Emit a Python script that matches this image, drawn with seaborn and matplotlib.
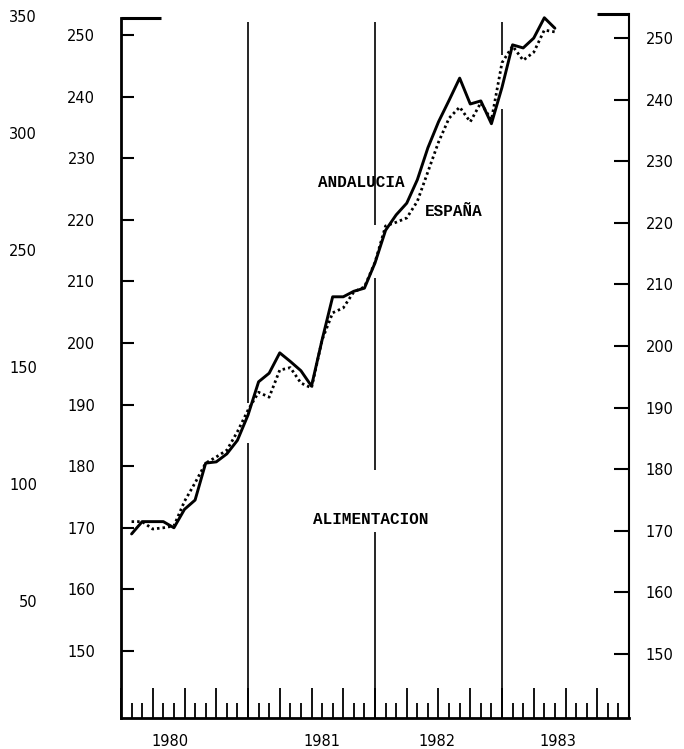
import matplotlib
matplotlib.use("Agg")
import numpy as np
import pandas as pd
import seaborn as sns
import matplotlib.pyplot as plt
import matplotlib.transforms as mtransforms

# monthly index values, Jan 1980 .. May 1983
months = list(range(1, 42))
andalucia = [169.0, 171.0, 171.0, 171.0, 170.0, 173.0, 174.5, 180.5, 180.7, 182.0,
             184.2, 188.3, 193.7, 195.1, 198.4, 197.0, 195.5, 193.0, 200.5, 207.5,
             207.5, 208.4, 208.9, 213.0, 218.3, 220.8, 222.7, 226.5, 231.7, 235.9,
             239.4, 243.0, 238.8, 239.3, 235.6, 241.5, 248.4, 247.9, 249.5, 252.8,
             251.1]
espana = [171.0, 171.0, 169.8, 170.0, 170.3, 174.3, 177.3, 180.5, 181.5, 182.6,
          185.6, 189.1, 192.0, 191.2, 195.6, 196.0, 193.5, 192.7, 200.5, 204.9,
          205.7, 208.3, 209.1, 213.1, 219.0, 219.6, 220.3, 223.0, 227.8, 232.6,
          236.5, 238.3, 235.9, 239.0, 236.2, 245.5, 248.2, 245.9, 247.2, 250.8,
          250.5]

years = ["1980", "1981", "1982", "1983"]
y_ticks = list(range(150, 251, 10))
outer_labels = ["350", "300", "250", "150", "100", "50"]

df = pd.DataFrame({"mes": months, "ANDALUCIA": andalucia, "ESPAÑA": espana})

sns.set_style("white")
plt.rcParams.update({
    "font.family": ["DejaVu Sans"],
    "text.color": "black",
    "xtick.color": "black",
    "ytick.color": "black",
    "xtick.bottom": True,
    "ytick.left": True,
})

fig = plt.figure(figsize=(6.84, 7.49), dpi=100)
ax = fig.add_axes([121 / 684, 31 / 749, 508 / 684, 704 / 749])

y_lo, y_hi = 139.12, 253.41
ax.set_xlim(0, 48)
ax.set_ylim(y_lo, y_hi)

# year separators, broken where the curves and labels pass
segments = [
    (12, 190.3, 252.1), (12, y_lo, 183.8),
    (24, 219.2, 252.1), (24, 179.4, 210.6), (24, y_lo, 169.3),
    (36, 246.8, 252.1), (36, y_lo, 238.0),
]
for x, y0, y1 in segments:
    ax.vlines(x, y0, y1, color="black", lw=1.2, zorder=2)

sns.lineplot(data=df, x="mes", y="ANDALUCIA", color="black", lw=2.1, ax=ax, zorder=3)
sns.lineplot(data=df, x="mes", y="ESPAÑA", color="black", lw=2.0,
             linestyle=(0, (0.9, 1.1)), ax=ax, zorder=3)

ax.set_xlabel("")
ax.set_ylabel("")

# spines
ax.spines["top"].set_visible(False)
for s in ["left", "bottom", "right"]:
    ax.spines[s].set_color("black")
ax.spines["left"].set_linewidth(2.0)
ax.spines["bottom"].set_linewidth(2.0)
ax.spines["right"].set_linewidth(1.5)
ax.spines["left"].set_bounds(y_lo, 252.8)

# top brackets
ax.plot([0, 3.8], [252.8, 252.8], color="black", lw=2.2, clip_on=False, solid_capstyle="butt")
ax.plot([45.0, 48.0], [y_hi, y_hi], color="black", lw=2.2, clip_on=False, solid_capstyle="butt")

# month ticks along the bottom
ax.set_xticks(range(0, 49, 3))
ax.set_xticks(range(0, 49), minor=True)
ax.tick_params(axis="x", which="major", direction="in", length=21.6, width=1.3,
               bottom=True, labelbottom=False, color="black")
ax.tick_params(axis="x", which="minor", direction="in", length=10.8, width=1.3,
               bottom=True, color="black")

ax.set_yticks(y_ticks)
ax.set_yticklabels([str(v) for v in y_ticks])
ax.tick_params(axis="y", direction="in", length=9.4, width=1.5, pad=18.5,
               left=True, labelsize=10.5, color="black")

# right scale
axr = ax.twinx()
axr.set_ylim(y_lo + 0.5, y_hi + 0.5)
axr.set_yticks(y_ticks)
axr.set_yticklabels([str(v) for v in y_ticks])
axr.tick_params(axis="y", direction="in", length=10.8, width=1.5, pad=12,
                right=True, labelsize=10.5, color="black")
for s in axr.spines.values():
    s.set_visible(False)

# outer left scale
axo = ax.twinx()
axo.set_ylim(6.0, -0.017)
axo.yaxis.set_ticks_position("left")
axo.set_yticks(range(len(outer_labels)))
axo.set_yticklabels(outer_labels)
axo.tick_params(axis="y", length=0, pad=60.5, labelsize=10.5)
for s in axo.spines.values():
    s.set_visible(False)

# year labels
trans = mtransforms.blended_transform_factory(ax.transData, ax.transAxes)
for lab, xpos in zip(years, [4.64, 19.0, 29.9, 41.3]):
    ax.text(xpos, -0.034, lab, transform=trans, ha="center", va="center", fontsize=10.5)

mono = dict(family="Liberation Mono", fontsize=11.5, fontweight="bold", va="center")
ax.text(18.6, 226.1, "ANDALUCIA", **mono)
ax.text(28.7, 221.4, "ESPAÑA", **mono)
ax.text(18.1, 171.4, "ALIMENTACION", **mono)

fig.savefig("out.png", dpi=100)
